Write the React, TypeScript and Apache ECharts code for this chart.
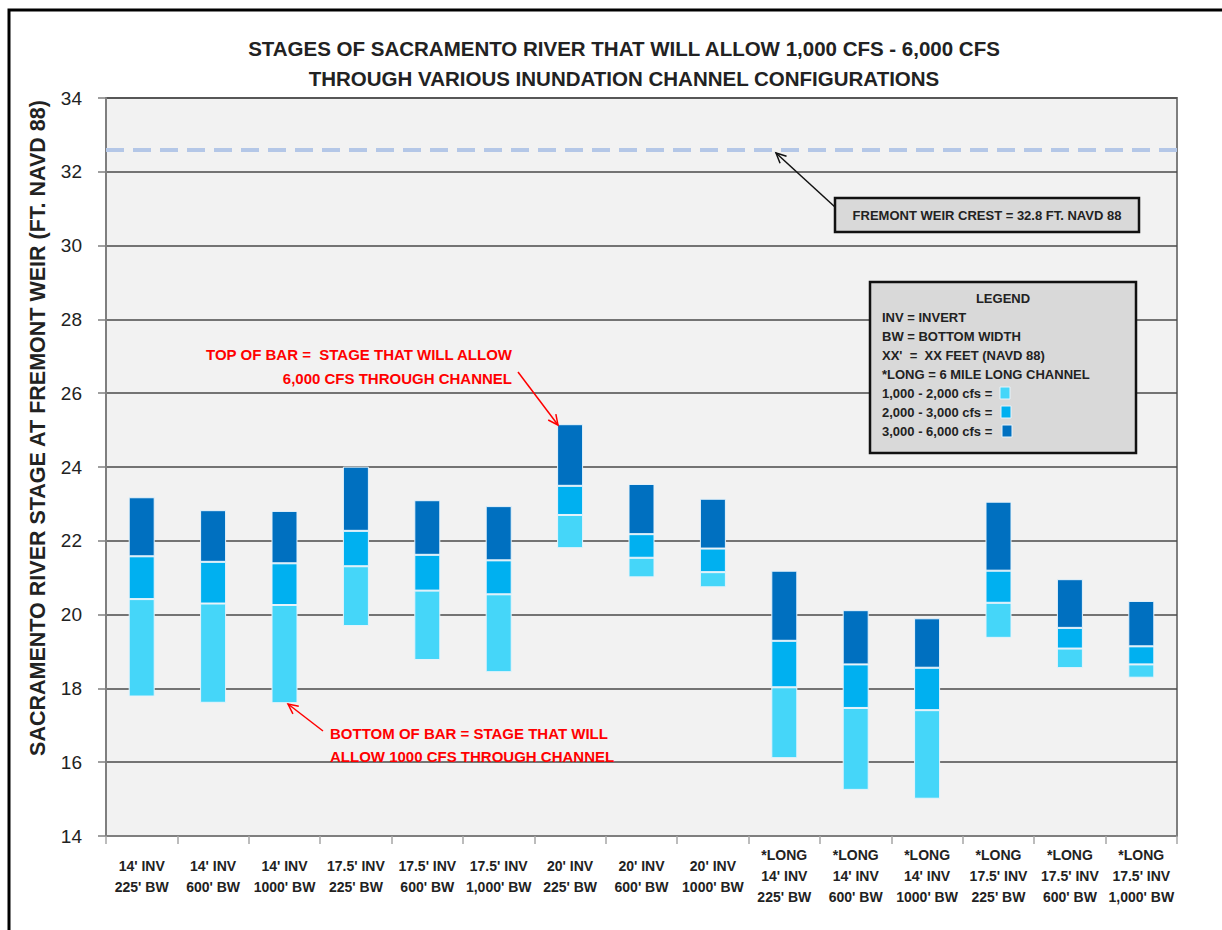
import React, { useEffect, useRef } from "react";
import * as echarts from "echarts";

const categories = [
  "14' INV\n225' BW",
  "14' INV\n600' BW",
  "14' INV\n1000' BW",
  "17.5' INV\n225' BW",
  "17.5' INV\n600' BW",
  "17.5' INV\n1,000' BW",
  "20' INV\n225' BW",
  "20' INV\n600' BW",
  "20' INV\n1000' BW",
  "*LONG\n14' INV\n225' BW",
  "*LONG\n14' INV\n600' BW",
  "*LONG\n14' INV\n1000' BW",
  "*LONG\n17.5' INV\n225' BW",
  "*LONG\n17.5' INV\n600' BW",
  "*LONG\n17.5' INV\n1,000' BW",
];

// Stage (ft NAVD 88) that allows each flow
const stage1000 = [17.78, 17.61, 17.6, 19.69, 18.77, 18.44, 21.8, 21.01, 20.74, 16.11, 15.25, 15.01, 19.37, 18.55, 18.29];
const stage2000 = [20.42, 20.3, 20.26, 21.31, 20.65, 20.55, 22.7, 21.54, 21.15, 18.03, 17.47, 17.41, 20.32, 19.08, 18.65];
const stage3000 = [21.58, 21.43, 21.39, 22.27, 21.62, 21.47, 23.49, 22.18, 21.79, 19.29, 18.65, 18.56, 21.19, 19.64, 19.14];
const stage6000 = [23.18, 22.83, 22.81, 24.01, 23.1, 22.94, 25.16, 23.54, 23.14, 21.19, 20.12, 19.9, 23.06, 20.96, 20.37];

const weirCrest = 32.6;
const yMin = 14;
const yMax = 34;
const yStep = 2;

const seriesNames = ["1,000 - 2,000 cfs", "2,000 - 3,000 cfs", "3,000 - 6,000 cfs"];
const colors = ["#45d6f9", "#00b0f0", "#0070c0"];

const legendLines = [
  "INV = INVERT",
  "BW = BOTTOM WIDTH",
  "XX'  =  XX FEET (NAVD 88)",
  "*LONG = 6 MILE LONG CHANNEL",
  "1,000 - 2,000 cfs =",
  "2,000 - 3,000 cfs =",
  "3,000 - 6,000 cfs =",
];

const FONT = "'Liberation Sans', Arial, sans-serif";

const diff = (a: number[], b: number[]) => a.map((v, i) => Math.round((v - b[i]) * 100) / 100);

function arrow(x1: number, y1: number, x2: number, y2: number, color: string, w: number) {
  const ang = Math.atan2(y2 - y1, x2 - x1);
  const L = 11;
  const spread = 0.45;
  const p1 = [x2 - L * Math.cos(ang - spread), y2 - L * Math.sin(ang - spread)];
  const p2 = [x2 - L * Math.cos(ang + spread), y2 - L * Math.sin(ang + spread)];
  return [
    { type: "line", shape: { x1, y1, x2, y2 }, style: { stroke: color, lineWidth: w }, z: 100 },
    { type: "polyline", shape: { points: [p1, [x2, y2], p2] }, style: { stroke: color, lineWidth: w, fill: null }, z: 100 },
  ];
}

export default function App() {
  const ref = useRef<HTMLDivElement>(null);
  useEffect(() => {
    if (!ref.current) return;
    const chart = echarts.init(ref.current, undefined, { renderer: "svg" });
    const seg1 = diff(stage2000, stage1000);
    const seg2 = diff(stage3000, stage2000);
    const seg3 = diff(stage6000, stage3000);

    const barCommon = {
      type: "bar",
      stack: "stage",
      barWidth: 26,
    };

    const legendTexts: any[] = [];
    legendTexts.push({
      type: "text",
      x: 1003,
      y: 298,
      style: { text: "LEGEND", font: `bold 13px ${FONT}`, fill: "#222", align: "center", verticalAlign: "middle" },
      z: 101,
    });
    const ly = [317, 336, 355, 374, 393, 412, 431];
    legendLines.forEach((t, i) => {
      legendTexts.push({
        type: "text",
        x: 882,
        y: ly[i],
        style: { text: t, font: `bold 13px ${FONT}`, fill: "#222", align: "left", verticalAlign: "middle" },
        z: 101,
      });
    });
    const sqX = [1000, 1001, 1002];
    colors.forEach((c, i) => {
      legendTexts.push({
        type: "rect",
        shape: { x: sqX[i], y: ly[4 + i] - 6, width: 10, height: 12 },
        style: { fill: c, stroke: "#e6f3fb", lineWidth: 1 },
        z: 101,
      });
    });

    chart.setOption({
      animation: false,
      backgroundColor: "#ffffff",
      title: {
        text: "STAGES OF SACRAMENTO RIVER THAT WILL ALLOW 1,000 CFS - 6,000 CFS\nTHROUGH VARIOUS INUNDATION CHANNEL CONFIGURATIONS",
        left: 619,
        top: 28,
        textAlign: "center",
        textStyle: { fontFamily: FONT, fontWeight: "bold", fontSize: 20.5, color: "#222", lineHeight: 30 },
      },
      grid: {
        left: 106,
        right: 45,
        top: 98,
        bottom: 94,
        show: true,
        backgroundColor: "#f2f2f2",
        borderColor: "#7f7f7f",
        borderWidth: 2,
      },
      xAxis: {
        type: "category",
        data: categories,
        axisLine: { lineStyle: { color: "#7f7f7f", width: 2 } },
        axisTick: { show: true, length: 8, lineStyle: { color: "#a6a6a6", width: 1.5 } },
        axisLabel: {
          interval: 0,
          margin: 40,
          verticalAlign: "middle",
          fontFamily: FONT,
          fontWeight: "bold",
          fontSize: 14,
          lineHeight: 21,
          color: "#222",
        },
      },
      yAxis: {
        type: "value",
        min: yMin,
        max: yMax,
        interval: yStep,
        axisLine: { show: true, lineStyle: { color: "#7f7f7f", width: 2 } },
        axisTick: { show: true, length: 8, lineStyle: { color: "#7f7f7f", width: 1.5 } },
        axisLabel: { margin: 24, fontFamily: FONT, fontSize: 19, color: "#222" },
        splitLine: { show: true, lineStyle: { color: "#4a4a4a", width: 1.5 } },
      },
      series: [
        {
          ...barCommon,
          name: "base",
          data: stage1000,
          itemStyle: { color: "transparent" },
          silent: true,
          markLine: {
            silent: true,
            symbol: "none",
            label: { show: false },
            lineStyle: { color: "#b4c7e7", width: 4, type: [18, 9] },
            data: [{ yAxis: weirCrest }],
          },
        },
        { ...barCommon, name: seriesNames[0], data: seg1, itemStyle: { color: colors[0], borderColor: "#e6f3fb", borderWidth: 1 } },
        { ...barCommon, name: seriesNames[1], data: seg2, itemStyle: { color: colors[1], borderColor: "#e6f3fb", borderWidth: 1 } },
        { ...barCommon, name: seriesNames[2], data: seg3, itemStyle: { color: colors[2], borderColor: "#e6f3fb", borderWidth: 1 } },
      ],
      graphic: [
        // outer frame
        { type: "rect", shape: { x: 9, y: 10, width: 1300, height: 1000 }, style: { fill: null, stroke: "#000", lineWidth: 3 }, z: 200, silent: true },
        // y axis title
        {
          type: "text",
          x: 38,
          y: 428,
          rotation: Math.PI / 2,
          style: {
            text: "SACRAMENTO RIVER STAGE AT FREMONT WEIR (FT. NAVD 88)",
            font: `bold 21.5px ${FONT}`,
            fill: "#222",
            align: "center",
            verticalAlign: "middle",
          },
        },
        // weir crest callout
        { type: "rect", shape: { x: 835, y: 198, width: 304, height: 34 }, style: { fill: "#d9d9d9", stroke: "#111", lineWidth: 2.5 }, z: 100 },
        {
          type: "text",
          x: 987,
          y: 215,
          style: { text: "FREMONT WEIR CREST = 32.8 FT. NAVD 88", font: `bold 13px ${FONT}`, fill: "#222", align: "center", verticalAlign: "middle" },
          z: 101,
        },
        ...arrow(835, 207, 776, 153, "#111", 1.5),
        // legend box
        { type: "rect", shape: { x: 870, y: 282, width: 266, height: 171 }, style: { fill: "#d9d9d9", stroke: "#111", lineWidth: 2.5 }, z: 100 },
        ...legendTexts,
        // top-of-bar note
        {
          type: "text",
          x: 512,
          y: 354,
          style: { text: "TOP OF BAR =  STAGE THAT WILL ALLOW", font: `bold 15px ${FONT}`, fill: "#ff0000", align: "right", verticalAlign: "middle" },
          z: 101,
        },
        {
          type: "text",
          x: 512,
          y: 378,
          style: { text: "6,000 CFS THROUGH CHANNEL", font: `bold 15px ${FONT}`, fill: "#ff0000", align: "right", verticalAlign: "middle" },
          z: 101,
        },
        ...arrow(518, 372, 558, 425, "#ff0000", 1.5),
        // bottom-of-bar note
        {
          type: "text",
          x: 330,
          y: 733,
          style: { text: "BOTTOM OF BAR = STAGE THAT WILL", font: `bold 15px ${FONT}`, fill: "#ff0000", align: "left", verticalAlign: "middle" },
          z: 101,
        },
        {
          type: "text",
          x: 330,
          y: 756,
          style: { text: "ALLOW 1000 CFS THROUGH CHANNEL", font: `bold 15px ${FONT}`, fill: "#ff0000", align: "left", verticalAlign: "middle" },
          z: 101,
        },
        ...arrow(323, 731, 288, 704, "#ff0000", 1.5),
      ],
    });
    return () => chart.dispose();
  }, []);
  return <div ref={ref} style={{ position: "fixed", left: 0, top: 0, width: 1222, height: 930 }} />;
}
